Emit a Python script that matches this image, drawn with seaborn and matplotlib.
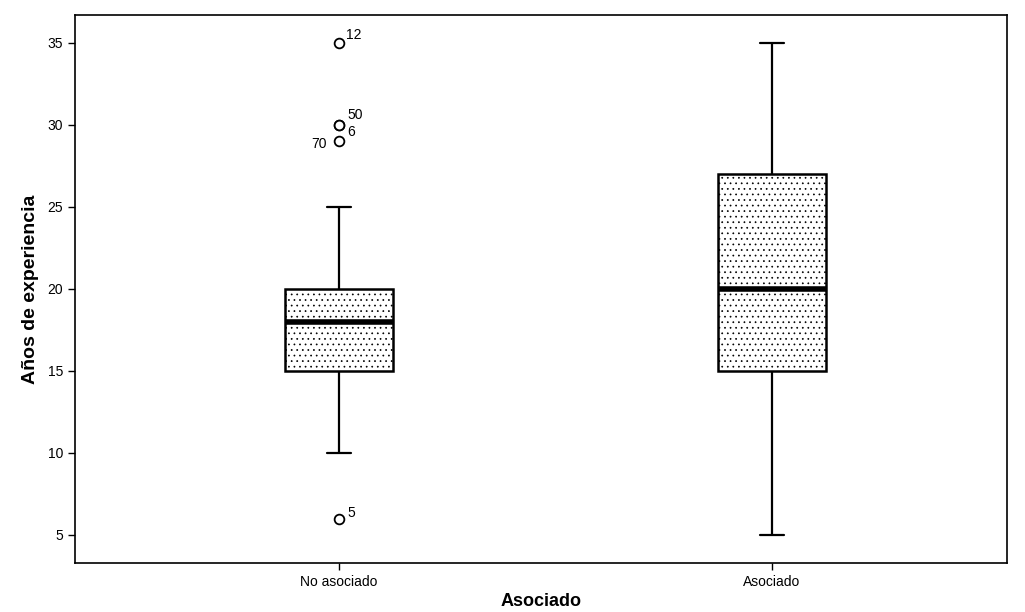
import matplotlib
matplotlib.use("Agg")
import matplotlib.pyplot as plt
import seaborn as sns
import pandas as pd

# Years of experience per group (sorted samples)
groups = ["No asociado", "Asociado"]
no_asociado = [6, 10, 12, 14, 15, 15, 16, 17, 17, 18, 18, 19, 19, 20, 20, 20,
               25, 29, 30, 30, 35]
asociado = [5, 8, 10, 12, 14, 15, 16, 17, 18, 19, 20, 21, 22, 24, 25, 27,
            28, 30, 32, 33, 35]

# Case numbers of the outlying observations
outlier_values = [35, 30, 30, 29, 6]
outlier_cases = ["12", "50", "6", "70", "5"]

y_ticks = [5, 10, 15, 20, 25, 30, 35]

df = pd.DataFrame({
    "Asociado": [groups[0]] * len(no_asociado) + [groups[1]] * len(asociado),
    "anios": no_asociado + asociado,
})

sns.set_theme(style="white")
plt.rcParams["font.family"] = ["Liberation Sans", "DejaVu Sans"]
plt.rcParams["text.color"] = "black"
plt.rcParams["axes.labelcolor"] = "black"
plt.rcParams["hatch.color"] = "#b4b4b4"
plt.rcParams["hatch.linewidth"] = 0.5

fig = plt.figure(figsize=(10.25, 6.12), dpi=100)
ax = fig.add_axes([0.0732, 0.0801, 0.9092, 0.8954])

sns.boxplot(
    data=df, x="Asociado", y="anios", order=groups, ax=ax,
    width=0.25, whis=1.5, fill=True, color="white", linecolor="black",
    linewidth=1.8,
    medianprops=dict(color="black", linewidth=4),
    whiskerprops=dict(color="black", linewidth=1.6),
    capprops=dict(color="black", linewidth=1.6),
    flierprops=dict(marker="o", markersize=7, markerfacecolor="white",
                    markeredgecolor="black", markeredgewidth=1.3),
)

# Stippled box fill
for patch in ax.patches:
    patch.set_hatch("...")
    patch.set_facecolor("white")

# Narrower caps
for line in ax.lines:
    xd = list(line.get_xdata())
    yd = list(line.get_ydata())
    if len(xd) == 2 and yd[0] == yd[1] and abs(xd[1] - xd[0]) > 0.01 \
            and abs(xd[1] - xd[0]) < 0.2 and line.get_linewidth() < 3:
        c = (xd[0] + xd[1]) / 2
        line.set_xdata([c - 0.028, c + 0.028])

# Case labels beside outliers
label_offsets = {"12": (5, 6), "50": (6, 7), "6": (6, -5), "70": (-20, -2), "5": (6, 4)}
for v, case in zip(outlier_values, outlier_cases):
    ax.annotate(case, xy=(0, v), xytext=label_offsets[case],
                textcoords="offset points", fontsize=10, ha="left",
                va="center", color="black")

ax.set_xlim(-0.61, 1.543)
ax.set_ylim(3.29, 36.7)
ax.set_yticks(y_ticks)
ax.set_yticklabels([str(t) for t in y_ticks])

for side in ["top", "right", "bottom", "left"]:
    ax.spines[side].set_visible(True)
    ax.spines[side].set_color("black")
    ax.spines[side].set_linewidth(1.2)

ax.tick_params(axis="both", which="major", direction="out", length=5,
               width=1, color="black", labelsize=10, labelcolor="black",
               left=True, bottom=True)

ax.set_xlabel("Asociado", fontsize=13, fontweight="bold", labelpad=3)
ax.set_ylabel("Años de experiencia", fontsize=14, fontweight="bold",
              labelpad=6)

fig.savefig("out.png", dpi=100, facecolor="white")
